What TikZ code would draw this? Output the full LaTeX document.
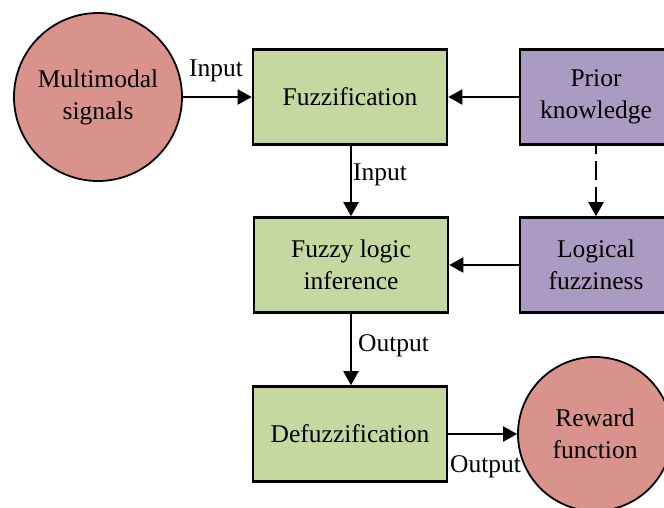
\documentclass[tikz,border=0pt]{standalone}
\usepackage{fontspec}
\setmainfont{Liberation Serif}
\usetikzlibrary{arrows.meta}
\definecolor{stagegreen}{RGB}{197,216,160}
\definecolor{priorpurple}{RGB}{170,155,194}
\definecolor{signalred}{RGB}{218,146,140}
\tikzset{
  stagebox/.style={draw=black, line width=2.6pt, fill=stagegreen, minimum width=194pt, minimum height=95pt, inner sep=0pt, align=center},
  knowbox/.style={draw=black, line width=2.6pt, fill=priorpurple, minimum width=152pt, minimum height=95pt, inner sep=0pt, align=center},
  endcircle/.style={circle, draw=black, line width=1.8pt, fill=signalred, inner sep=0pt, align=center},
  flow/.style={line width=2pt, -{Triangle[length=14pt, width=15pt]}},
  flowlabel/.style={inner sep=0pt, font=\fontsize{25.5}{30}\selectfont},
}
\begin{document}
\begin{tikzpicture}[x=1pt, y=-1pt, font=\fontsize{25.5}{32}\selectfont]
  \clip (0,0) rectangle (664,507);
  \fill[white] (0,0) rectangle (664,507);

  % processing stages
  \node[stagebox] (fuzz) at (350,97) {Fuzzification};
  \node[stagebox] (infer) at (351,265) {Fuzzy logic\\inference};
  \node[stagebox] (defuzz) at (350,434) {Defuzzification};

  % knowledge sources
  \node[knowbox] (prior) at (596,97) {Prior\\knowledge};
  \node[knowbox] (logic) at (596,265) {Logical\\fuzziness};

  % signal source and sink
  \node[endcircle, minimum size=168pt] (signals) at (98,97) {Multimodal\\signals};
  \node[endcircle, minimum size=154pt] (reward) at (595,434) {Reward\\function};

  % connectors
  \draw[flow] (signals.east) -- (fuzz.west);
  \draw[flow] (prior.west) -- (fuzz.east);
  \draw[flow] (fuzz.south -| infer.north) -- (infer.north);
  \draw[flow, dash pattern=on 19pt off 7pt, dash phase=11pt] (prior.south) -- (logic.north);
  \draw[flow] (logic.west) -- (infer.east);
  \draw[flow] (infer.south) -- (infer.south |- defuzz.north);
  \draw[flow] (defuzz.east) -- (reward.west);

  % connector labels
  \node[flowlabel, anchor=base] (lin1) at (216,76) {Input};
  \node[flowlabel, anchor=base west] (lin2) at (353,180) {Input};
  \node[flowlabel, anchor=base west] (lout1) at (358,351) {Output};
  \node[flowlabel, anchor=base west] (lout2) at (450,472) {Output};
\end{tikzpicture}
\end{document}
